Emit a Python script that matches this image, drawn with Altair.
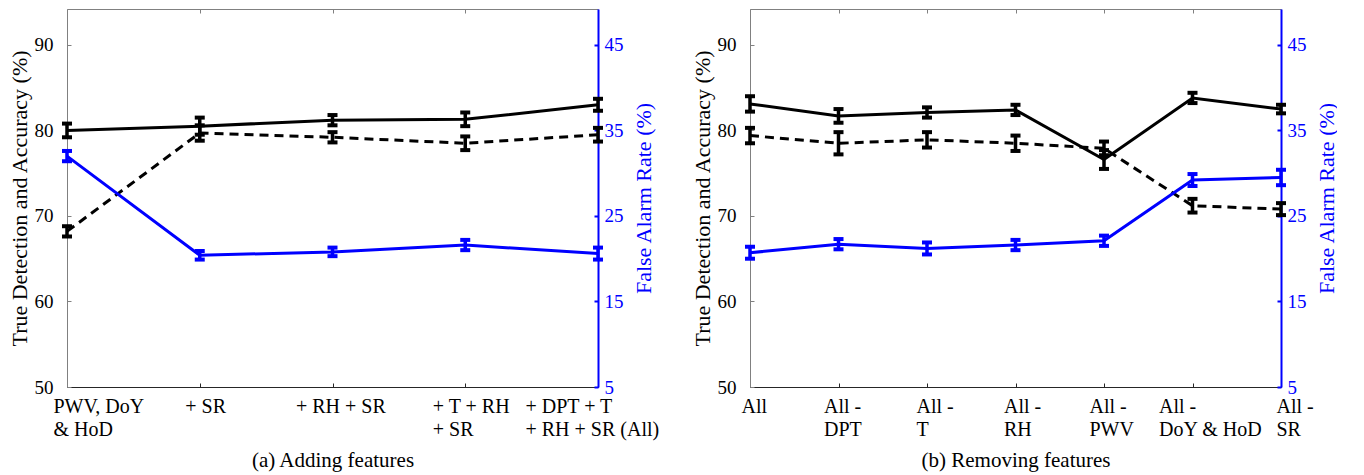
import json
import altair as alt
import pandas as pd

# ---------------- data ----------------
cats_a = ["PWV, DoY\n& HoD", "+ SR", "+ RH + SR", "+ T + RH\n+ SR", "+ DPT + T\n+ RH + SR (All)"]
solid_a = [80.0, 80.5, 81.2, 81.3, 83.0]
solid_a_err = [0.8, 1.0, 0.6, 0.8, 0.7]
dash_a = [68.2, 79.7, 79.2, 78.5, 79.5]
dash_a_err = [0.6, 0.9, 0.6, 0.8, 0.8]
far_a = [32.0, 20.4, 20.8, 21.6, 20.6]
far_a_err = [0.6, 0.5, 0.5, 0.6, 0.7]

cats_b = ["All", "All -\nDPT", "All -\nT", "All -\nRH", "All -\nPWV", "All -\nDoY & HoD", "All -\nSR"]
solid_b = [83.1, 81.7, 82.1, 82.4, 76.6, 83.8, 82.5]
solid_b_err = [0.9, 0.8, 0.6, 0.6, 1.1, 0.6, 0.5]
dash_b = [79.4, 78.5, 78.9, 78.5, 77.9, 71.2, 70.8]
dash_b_err = [0.9, 1.3, 0.9, 0.9, 0.8, 0.8, 0.7]
far_b = [20.7, 21.7, 21.2, 21.6, 22.1, 29.2, 29.5]
far_b_err = [0.7, 0.6, 0.7, 0.6, 0.6, 0.7, 0.9]

left_ticks = [50, 60, 70, 80, 90]
right_ticks = [5, 15, 25, 35, 45]
captions = ["(a) Adding features", "(b) Removing features"]
left_title = "True Detection and Accuracy (%)"
right_title = "False Alarm Rate (%)"

# ---------------- style ----------------
FONT = "'Liberation Serif', 'Times New Roman', serif"
BLUE = "#0000ff"
GRAY = "#808080"
DARK = "#262626"
W, H = 531, 378
LEFT_DOM = [50, 94.2]
RIGHT_DOM = [5, 49.2]
label_dx_a = [-14, -15, -37, -33, -73]
label_dx_b = [-9, -15, -11, -12, -15, -34, -5]


def panel(cats, solid, solid_err, dash, dash_err, far, far_err, dxs, caption):
    rows = []
    for name, vals, errs in (("solid", solid, solid_err), ("dash", dash, dash_err), ("far", far, far_err)):
        for c, v, e in zip(cats, vals, errs):
            rows.append({"cat": c, "s": name, "v": v, "lo": v - e, "hi": v + e})
    df = pd.DataFrame(rows)
    base = alt.Chart(df)

    xscale = alt.Scale(type="point", padding=0, domain=cats)

    offset_cond = {
        "condition": [
            {"test": f"datum.value === {json.dumps(c)}", "value": d} for c, d in zip(cats, dxs)
        ],
        "value": 0,
    }
    ax_bottom = alt.Axis(
        orient="bottom", title=caption, titleFontSize=21, titleFontWeight="normal",
        titleColor="black", titlePadding=10, titleFont=FONT,
        domainColor=DARK, domainWidth=1, ticks=False, grid=False,
        labelAlign="left", labelOffset=offset_cond, labelAngle=0, labelFont=FONT,
        labelExpr="split(datum.value, '\\n')", labelPadding=9, labelFontSize=20,
        labelLineHeight=23, labelColor="black", labelOverlap=False, labelBaseline="top",
    )
    ax_top = alt.Axis(orient="top", title=None, domainColor=GRAY, domainWidth=1,
                      ticks=False, labels=False, grid=False)
    ax_bottom_ticks = alt.Axis(orient="bottom", title=None, domain=False, labels=False,
                               ticks=True, tickSize=4, tickColor=DARK, offset=-4, grid=False)
    ax_top_ticks = alt.Axis(orient="top", title=None, domain=False, labels=False,
                            ticks=True, tickSize=4, tickColor=GRAY, offset=-4, grid=False)

    lscale = alt.Scale(domain=LEFT_DOM, nice=False, zero=False)
    rscale = alt.Scale(domain=RIGHT_DOM, nice=False, zero=False)
    ax_left = alt.Axis(
        orient="left", values=left_ticks, ticks=False, grid=False,
        domainColor=GRAY, domainWidth=1, labelPadding=14, labelFontSize=19, labelFont=FONT,
        labelColor="black", title=left_title, titleFontSize=22, titleFontWeight="normal",
        titleColor="black", titlePadding=3, titleFont=FONT,
    )
    ax_right = alt.Axis(
        orient="right", values=right_ticks, ticks=False, grid=False,
        domainColor=BLUE, domainWidth=2, labelPadding=6, labelFontSize=19, labelFont=FONT,
        labelColor=BLUE, title=right_title, titleFontSize=22, titleFontWeight="normal",
        titleColor=BLUE, titleAngle=270, titleBaseline="top", titlePadding=10, titleFont=FONT,
    )
    ax_left_ticks = alt.Axis(orient="left", values=left_ticks, ticks=True, tickSize=4,
                             tickColor=GRAY, domain=False, labels=False, title=None,
                             offset=-4, grid=False)
    ax_right_ticks = alt.Axis(orient="right", values=right_ticks, ticks=True, tickSize=4,
                              tickColor=BLUE, tickWidth=2, domain=False, labels=False,
                              title=None, offset=-4, grid=False)

    def xb(axis):
        return alt.X("cat:N", sort=cats, scale=xscale, axis=axis)

    # black group (left axis)
    blk = base.transform_filter("datum.s !== 'far'")
    xa = xb(ax_bottom)
    line_solid = blk.transform_filter("datum.s === 'solid'").mark_line(
        color="black", strokeWidth=3).encode(
        x=xa, y=alt.Y("v:Q", scale=lscale, axis=ax_left))
    line_dash = blk.transform_filter("datum.s === 'dash'").mark_line(
        color="black", strokeWidth=3, strokeDash=[9, 6]).encode(
        x=xa, y=alt.Y("v:Q", scale=lscale, axis=ax_left))
    stem = blk.mark_rule(color="black", strokeWidth=3.5, opacity=1).encode(
        x=xa, y=alt.Y("lo:Q", scale=lscale, axis=ax_left), y2="hi:Q")
    cap_lo = blk.mark_tick(color="black", size=10, thickness=4, opacity=1).encode(
        x=xa, y=alt.Y("lo:Q", scale=lscale, axis=ax_left))
    cap_hi = blk.mark_tick(color="black", size=10, thickness=4, opacity=1).encode(
        x=xa, y=alt.Y("hi:Q", scale=lscale, axis=ax_left))
    black = alt.layer(line_solid, line_dash, stem, cap_lo, cap_hi)

    # blue group (right axis)
    bl = base.transform_filter("datum.s === 'far'")
    xt = xb(ax_top)
    line_far = bl.mark_line(color=BLUE, strokeWidth=3).encode(
        x=xt, y=alt.Y("v:Q", scale=rscale, axis=ax_right))
    stem_b = bl.mark_rule(color=BLUE, strokeWidth=3.5, opacity=1).encode(
        x=xt, y=alt.Y("lo:Q", scale=rscale, axis=ax_right), y2="hi:Q")
    cap_lo_b = bl.mark_tick(color=BLUE, size=10, thickness=4, opacity=1).encode(
        x=xt, y=alt.Y("lo:Q", scale=rscale, axis=ax_right))
    cap_hi_b = bl.mark_tick(color=BLUE, size=10, thickness=4, opacity=1).encode(
        x=xt, y=alt.Y("hi:Q", scale=rscale, axis=ax_right))
    blue = alt.layer(line_far, stem_b, cap_lo_b, cap_hi_b)

    # inward tick marks (axes only)
    lt = bl.mark_point(opacity=0).encode(
        x=xb(ax_bottom_ticks), y=alt.Y("v:Q", scale=lscale, axis=ax_left_ticks))
    rt = bl.mark_point(opacity=0).encode(
        x=xb(ax_top_ticks), y=alt.Y("v:Q", scale=rscale, axis=ax_right_ticks))

    return alt.layer(black, blue, lt, rt).resolve_scale(y="independent").resolve_axis(
        x="independent", y="independent").properties(width=W, height=H)


pa = panel(cats_a, solid_a, solid_a_err, dash_a, dash_a_err, far_a, far_a_err, label_dx_a, captions[0])
pb = panel(cats_b, solid_b, solid_b_err, dash_b, dash_b_err, far_b, far_b_err, label_dx_b, captions[1])

chart = alt.hconcat(pa, pb, spacing=32).properties(
    padding={"left": 0, "top": 0, "right": 0, "bottom": 0}
).configure(font=FONT).configure_view(strokeWidth=0).configure_axis(
    labelFont=FONT, titleFont=FONT)

chart.save("out.html", embed_options={"renderer": "svg", "actions": False})
